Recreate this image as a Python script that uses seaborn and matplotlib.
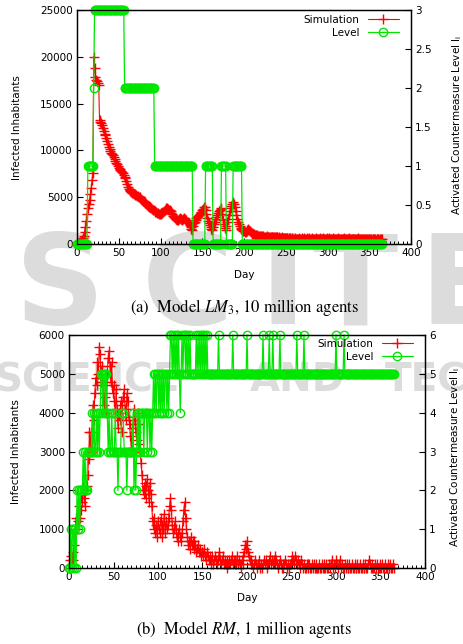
import numpy as np
import pandas as pd
import seaborn as sns
import matplotlib
matplotlib.use('Agg')
from matplotlib import pyplot as plt
from matplotlib.lines import Line2D
from matplotlib.ticker import MultipleLocator, FuncFormatter

##数据: 每天的感染人数(单位: 百人) 和 措施等级
days = np.arange(366)

# (a) Model LM3, 10 million agents
sim_lm = [0, 0, 1, 1, 2, 3, 4, 6, 9, 13,
          18, 25, 32, 38, 43, 47, 53, 60, 68, 76,
          200, 188, 178, 175, 174, 172, 170, 132, 130, 129,
          127, 124, 121, 118, 116, 113, 110, 107, 104, 101,
          99, 97, 96, 95, 93, 91, 89, 87, 85, 83,
          81, 80, 79, 78, 77, 76, 74, 72, 70, 67,
          64, 61, 59, 58, 57, 56, 55, 54, 53, 53,
          52, 52, 51, 51, 50, 50, 49, 48, 47, 46,
          46, 45, 44, 43, 42, 41, 40, 40, 39, 38,
          37, 36, 36, 35, 34, 34, 33, 33, 32, 32,
          32, 33, 33, 34, 35, 36, 37, 38, 38, 37,
          36, 36, 35, 33, 32, 30, 29, 28, 27, 27,
          26, 26, 27, 28, 27, 27, 26, 27, 28, 27,
          26, 25, 24, 23, 22, 20, 18, 16, 15, 19,
          22, 24, 26, 28, 29, 30, 31, 32, 33, 34,
          36, 37, 39, 40, 36, 32, 28, 25, 22, 20,
          18, 16, 15, 18, 21, 24, 27, 29, 31, 33,
          35, 36, 37, 38, 32, 26, 21, 17, 15, 19,
          23, 27, 31, 35, 38, 41, 43, 45, 43, 39,
          35, 31, 27, 24, 21, 19, 17, 16, 15, 14,
          14, 13, 13, 14, 15, 16, 15, 14, 13, 12,
          11, 11, 11, 10, 10, 10, 9, 9, 9, 9,
          9, 9, 8, 9, 8, 8, 8, 9, 8, 8,
          8, 8, 7, 8, 7, 7, 7, 8, 7, 7,
          7, 6, 7, 6, 6, 7, 6, 6, 6, 6,
          6, 6, 6, 5, 6, 6, 5, 6, 5, 5,
          5, 6, 5, 5, 5, 5, 6, 5, 5, 5,
          6, 5, 6, 5, 5, 6, 5, 5, 6, 5,
          5, 5, 6, 5, 5, 5, 6, 5, 5, 5,
          5, 6, 5, 5, 5, 6, 5, 5, 5, 6,
          5, 5, 6, 5, 5, 5, 5, 6, 5, 5,
          5, 5, 5, 6, 5, 5, 5, 5, 5, 5,
          6, 5, 5, 5, 5, 5, 6, 5, 5, 5,
          5, 5, 5, 5, 5, 5, 5, 6, 5, 5,
          5, 5, 4, 5, 5, 5, 5, 5, 4, 5,
          5, 5, 5, 4, 5, 5, 5, 5, 4, 5,
          5, 5, 4, 5, 5, 5]
# 等级变化: 起始天 与 等级
lev_lm_start = [0, 13, 20, 21, 57, 93, 139, 154, 163, 173, 179, 187, 198]
lev_lm_value = [0, 1, 2, 3, 2, 1, 0, 1, 0, 1, 0, 1, 0]

# (b) Model RM, 1 million agents
sim_rm = [0, 2, 3, 1, 4, 2, 6, 9, 13, 10,
          12, 16, 13, 15, 19, 17, 21, 18, 16, 20,
          21, 24, 28, 35, 31, 35, 30, 42, 38, 45,
          49, 47, 53, 50, 57, 55, 48, 52, 45, 42,
          44, 47, 40, 50, 54, 56, 52, 48, 53, 45,
          47, 43, 39, 46, 41, 36, 40, 38, 43, 35,
          42, 44, 46, 41, 38, 45, 43, 39, 37, 34,
          31, 36, 30, 41, 38, 35, 33, 40, 37, 32,
          30, 27, 24, 20, 19, 22, 18, 21, 23, 20,
          17, 22, 19, 16, 12, 10, 13, 9, 11, 8,
          12, 10, 9, 13, 11, 8, 10, 14, 9, 12,
          10, 11, 13, 16, 18, 15, 11, 9, 10, 12,
          10, 8, 7, 9, 10, 8, 7, 9, 12, 15,
          17, 13, 10, 8, 6, 7, 5, 8, 6, 7,
          5, 7, 6, 4, 5, 6, 4, 5, 3, 4,
          4, 3, 5, 3, 2, 4, 3, 2, 3, 1,
          2, 3, 1, 2, 3, 2, 1, 2, 3, 4,
          2, 1, 2, 3, 1, 2, 1, 0, 2, 1,
          2, 1, 2, 3, 1, 2, 1, 2, 1, 3,
          1, 2, 1, 0, 2, 1, 3, 4, 6, 5,
          7, 4, 3, 2, 1, 2, 1, 0, 1, 2,
          1, 0, 1, 2, 1, 0, 1, 0, 1, 2,
          1, 2, 1, 0, 1, 2, 3, 1, 2, 1,
          2, 3, 1, 2, 1, 0, 1, 2, 1, 0,
          1, 0, 1, 2, 1, 0, 1, 0, 1, 1,
          2, 3, 2, 1, 3, 2, 1, 2, 1, 0,
          1, 2, 1, 0, 1, 0, 0, 1, 0, 1,
          1, 0, 0, 1, 0, 1, 0, 0, 1, 0,
          0, 1, 0, 0, 1, 0, 1, 0, 0, 1,
          0, 0, 1, 0, 1, 2, 1, 0, 1, 0,
          2, 1, 0, 1, 2, 1, 0, 1, 0, 0,
          1, 0, 1, 0, 0, 1, 0, 0, 1, 0,
          0, 1, 0, 0, 1, 0, 0, 1, 0, 0,
          1, 0, 0, 1, 0, 0, 1, 2, 1, 0,
          0, 1, 0, 0, 1, 0, 1, 0, 0, 1,
          0, 0, 1, 0, 0, 1, 0, 0, 1, 0,
          0, 1, 0, 0, 1, 0]
lev_rm = ("0010110102 1212223232 2333334343 3434345545 5454343343 "
          "3343323334 4433323333 3342323434 3444344434 4343454545 "
          "5454545455 4545665656 5656545656 6565656555 5556565656 "
          "5656565555 5555555565 5555555555 5555655555 5555555555 "
          "6555555555 5555555565 5555565556 5555555655 5555555555 "
          "5555556555 5555655555 5555555555 5555555555 5555555555 "
          "6555555556 5555555555 5555555555 5555555555 5555555555 "
          "5555555555 555555")

lev_lm = np.repeat(lev_lm_value, np.diff(lev_lm_start + [366]))
lev_rm = [int(c) for c in lev_rm.replace(' ', '')]
sim_lm = np.array(sim_lm) * 100
sim_rm = np.array(sim_rm) * 100

##画图
sns.set_style('ticks')
plt.rcParams['font.family'] = ['DejaVu Sans']
plt.rcParams['mathtext.fontset'] = 'dejavusans'
plt.rcParams['axes.edgecolor'] = 'black'
plt.rcParams['text.color'] = 'black'
plt.rcParams['xtick.color'] = 'black'
plt.rcParams['ytick.color'] = 'black'

W, H = 464.0, 644.0
RED = '#ff0000'
GREEN = '#00e600'
FS = 7.5
WM = '#dcdcdc'

fig = plt.figure(figsize=(4.64, 6.44), dpi=100)

# 背景水印
for ch, xc in (('S', 60), ('C', 188), ('I', 283), ('T', 355), ('E', 462)):
    fig.text(xc / W, 1 - 290 / H, ch, fontsize=90, fontweight='bold', color=WM,
             ha='center', va='center', zorder=-10)
for word, xl in (('SCIENCE', -6), ('AND', 250), ('TECHNOLOGY', 385)):
    fig.text(xl / W, 1 - 380 / H, word, fontsize=28, fontweight='bold', color=WM,
             ha='left', va='center', zorder=-10)


def panel(l, t, r, b, sim, lev, ymax, ystep, lmax, lstep, leg_xy):
    ax = fig.add_axes([l / W, 1 - b / H, (r - l) / W, (b - t) / H])
    ax.patch.set_alpha(0)
    df = pd.DataFrame({'Day': days, 'Infected': sim, 'Level': lev})
    sns.lineplot(data=df, x='Day', y='Infected', ax=ax, color=RED, lw=0.8,
                 marker='+', markersize=7, mew=1, mec=RED, estimator=None,
                 legend=False, clip_on=False)
    ax2 = ax.twinx()
    sns.lineplot(data=df, x='Day', y='Level', ax=ax2, color=GREEN, lw=0.9,
                 marker='o', markersize=6, mfc='none', mec=GREEN, mew=1,
                 estimator=None, legend=False, clip_on=False)
    ax.set_xlim(0, 400)
    ax.set_ylim(0, ymax)
    ax2.set_ylim(0, lmax)
    ax.xaxis.set_major_locator(MultipleLocator(50))
    ax.xaxis.set_minor_locator(MultipleLocator(5))
    ax.yaxis.set_major_locator(MultipleLocator(ystep))
    ax2.yaxis.set_major_locator(MultipleLocator(lstep))
    ax2.yaxis.set_major_formatter(FuncFormatter(lambda v, p: '%g' % v))
    ax.tick_params(which='major', direction='in', length=4.5, width=0.8,
                   labelsize=FS, pad=3, top=False, right=False)
    ax.tick_params(axis='x', which='minor', direction='in', length=2.2,
                   width=0.7, top=False)
    ax2.tick_params(direction='in', length=4.5, width=0.8, labelsize=FS, pad=3)
    for a in (ax, ax2):
        for s in a.spines.values():
            s.set_linewidth(0.9)
            s.set_color('black')
    ax.set_xlabel('')
    ax.set_ylabel('')
    ax2.set_ylabel('')
    handles = [Line2D([], [], color=RED, lw=0.8, marker='+', markersize=7, mew=1),
               Line2D([], [], color=GREEN, lw=0.9, marker='o', markersize=6,
                      mfc='none', mew=1)]
    ax2.legend(handles, ['Simulation', 'Level'], loc='upper right',
               bbox_to_anchor=(leg_xy[0] / W, 1 - leg_xy[1] / H),
               bbox_transform=fig.transFigure, markerfirst=False, frameon=False,
               fontsize=FS, handlelength=3.0, handletextpad=0.8, borderpad=0,
               borderaxespad=0, labelspacing=0.3, numpoints=1)
    return ax, ax2


panel(77, 10, 411, 244, sim_lm, lev_lm, 25000, 5000, 3, 0.5, (399, 15))
panel(69, 335, 425, 568, sim_rm, lev_rm, 6000, 1000, 6, 1, (413, 339))

# 坐标轴标题
for yc, ylab in ((128, 17), (452, 16)):
    fig.text(ylab / W, 1 - yc / H, 'Infected Inhabitants', rotation=90,
             fontsize=FS, ha='center', va='center')
fig.text(457 / W, 1 - 125 / H, r'Activated Countermeasure Level l$_{\rm i}$',
         rotation=90, fontsize=FS, ha='center', va='center')
fig.text(455 / W, 1 - 457 / H, r'Activated Countermeasure Level l$_{\rm i}$',
         rotation=90, fontsize=FS, ha='center', va='center')
fig.text(244 / W, 1 - 275 / H, 'Day', fontsize=FS, ha='center', va='center')
fig.text(247 / W, 1 - 598 / H, 'Day', fontsize=FS, ha='center', va='center')

# 子图说明
fig.text(245 / W, 1 - 308 / H, r'(a)  Model $\mathit{LM}_3$, 10 million agents',
         fontsize=12, family='STIXGeneral', math_fontfamily='stix',
         ha='center', va='center')
fig.text(244 / W, 1 - 630 / H, r'(b)  Model $\mathit{RM}$, 1 million agents',
         fontsize=12, family='STIXGeneral', math_fontfamily='stix',
         ha='center', va='center')

plt.savefig('out.png', dpi=100)
